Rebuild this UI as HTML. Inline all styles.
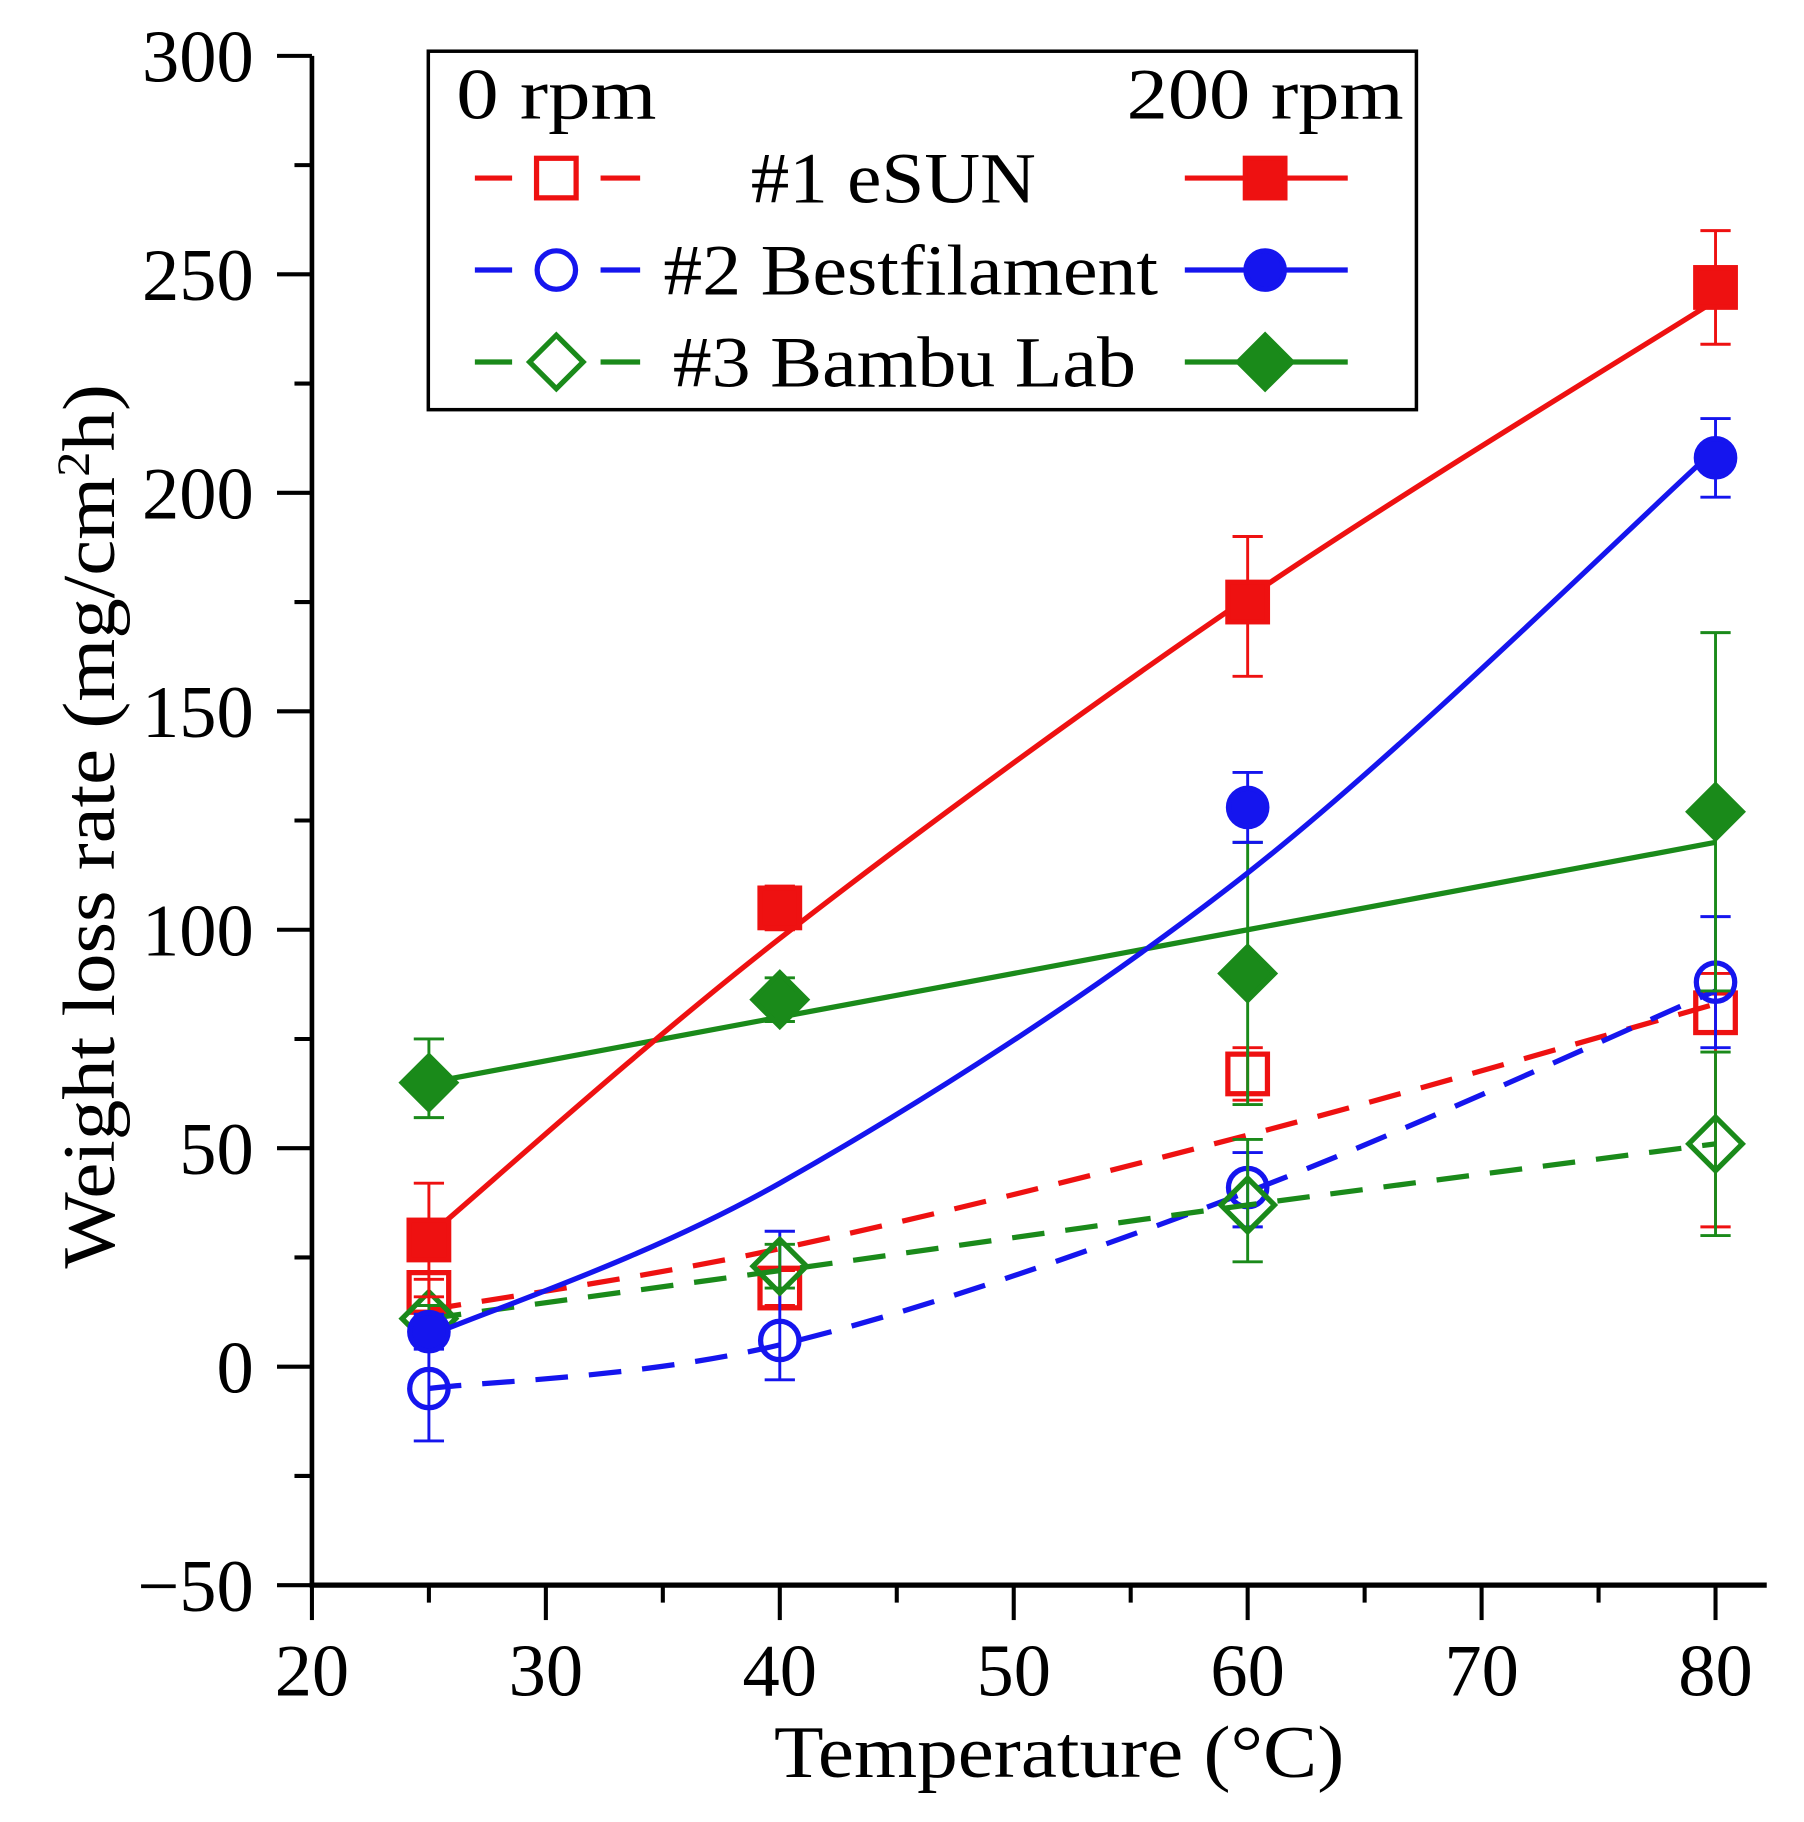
<!DOCTYPE html>
<html><head><meta charset="utf-8"><style>
html,body{margin:0;padding:0;background:#fff}
svg{display:block}
text{font-family:"Liberation Serif",serif;fill:#000}
</style></head><body>
<svg id="chart" width="1804" height="1822" viewBox="0 0 1550 1565.5" xmlns="http://www.w3.org/2000/svg">
<g id="axes"></g>
<g id="plot"></g>
<g id="legend"></g>
<text x="910" y="1527" font-size="64" text-anchor="middle" textLength="490" lengthAdjust="spacingAndGlyphs">Temperature (°C)</text>
<text transform="translate(98,710) rotate(-90)" font-size="64" text-anchor="middle" textLength="760" lengthAdjust="spacingAndGlyphs">Weight loss rate (mg/cm<tspan baseline-shift="super" font-size="40">2</tspan>h)</text>
</svg>
<script>
const temps = [25, 40, 60, 80];
const xTicks = [20, 30, 40, 50, 60, 70, 80];
const yTicks = [-50, 0, 50, 100, 150, 200, 250, 300];

const esun200 = [29, 105, 175, 247];
const esun200Hi = [42, 110, 190, 260];
const esun200Lo = [16, 100, 158, 234];
const esun200Fit = [30, 98, 176, 244];

const best200 = [8, null, 128, 208];
const best200Hi = [12, null, 136, 217];
const best200Lo = [4, null, 120, 199];
const best200Fit = [7, 42, 113, 210];

const bambu200 = [65, 84, 90, 127];
const bambu200Hi = [75, 89, 120, 168];
const bambu200Lo = [57, 79, 60, 86];
const bambu200Fit = [65, 80, 100, 120];

const esun0 = [17, 18, 67, 81];
const esun0Hi = [20, 22, 73, 90];
const esun0Lo = [14, 14, 61, 32];
const esun0Fit = [13, 27, 53, 83];

const best0 = [-5, 6, 41, 88];
const best0Hi = [7, 31, 49, 103];
const best0Lo = [-17, -3, 32, 73];
const best0Fit = [-5, 5, 40, 86];

const bambu0 = [11, 23, 37, 51];
const bambu0Hi = [14, 28, 52, 72];
const bambu0Lo = [8, 18, 24, 30];
const bambu0Fit = [11, 22, 37, 51];

const NS = "http://www.w3.org/2000/svg";
const X0 = 268, X1 = 1474, Y0 = 1362, Y1 = 48;
function xs(v){ return X0 + (v - 20) / 60 * (X1 - X0); }
function ys(v){ return Y0 - (v + 50) / 350 * (Y0 - Y1); }
function mk(tag, attrs, parent){
  const e = document.createElementNS(NS, tag);
  for (const k in attrs) e.setAttribute(k, attrs[k]);
  parent.appendChild(e); return e;
}
const axes = document.getElementById('axes');
const plot = document.getElementById('plot');
const legend = document.getElementById('legend');

let yl = mk('line', {x1:X0, y1:Y1, x2:X0, y2:Y0+2, stroke:'#000','stroke-width':4}, axes);


let xl = mk('line', {x1:X0-2, y1:Y0, x2:1518, y2:Y0, stroke:'#000','stroke-width':4.5}, axes);



for (let v = -50; v <= 300; v += 25) {
  const major = v % 50 === 0;
  const t = mk('line', {x1:X0 - (major ? 30 : 15), y1:ys(v), x2:X0, y2:ys(v), stroke:'#000','stroke-width':3.5}, axes);
  
  
}
yTicks.forEach(v => {
  const t = mk('text', {x:X0 - 50, y:ys(v) + 22, 'font-size':64, 'text-anchor':'end'}, axes);
  t.textContent = v < 0 ? '\u2212' + Math.abs(v) : String(v);
  
  
});
for (let v = 20; v <= 80; v += 5) {
  const major = v % 10 === 0;
  const t = mk('line', {x1:xs(v), y1:Y0, x2:xs(v), y2:Y0 + (major ? 30 : 15), stroke:'#000','stroke-width':3.5}, axes);
  
  
}
xTicks.forEach(v => {
  const t = mk('text', {x:xs(v), y:Y0 + 95, 'font-size':64, 'text-anchor':'middle'}, axes);
  t.textContent = String(v);
  
  
});

function smoothPath(vals){
  const pts = temps.map((t,i)=>[xs(t), ys(vals[i])]);
  let d = 'M' + pts[0][0] + ',' + pts[0][1];
  for (let i = 0; i < pts.length - 1; i++) {
    const p0 = pts[Math.max(0,i-1)], p1 = pts[i], p2 = pts[i+1], p3 = pts[Math.min(pts.length-1,i+2)];
    const c1 = [p1[0] + (p2[0]-p0[0])/6, p1[1] + (p2[1]-p0[1])/6];
    const c2 = [p2[0] - (p3[0]-p1[0])/6, p2[1] - (p3[1]-p1[1])/6];
    d += ' C' + c1.join(',') + ' ' + c2.join(',') + ' ' + p2.join(',');
  }
  return d;
}
function marker(shape, cx, cy, color, filled, parent, name){
  let e;
  const fill = filled ? color : 'none';
  if (shape === 'square') e = mk('rect', {x:cx-17, y:cy-17, width:34, height:34, fill:fill, stroke:color, 'stroke-width':4.5}, parent);
  else if (shape === 'circle') e = mk('circle', {cx:cx, cy:cy, r:16.5, fill:fill, stroke:color, 'stroke-width':4.5}, parent);
  else e = mk('polygon', {points:`${cx},${cy-23} ${cx+23},${cy} ${cx},${cy+23} ${cx-23},${cy}`, fill:fill, stroke:color, 'stroke-width':4.5}, parent);
  
  
  return e;
}
function series(vals, hi, lo, fit, color, shape, filled, name){
  const g = mk('g', {}, plot);
  
  
  temps.forEach((t,i)=>{
    if (hi[i] == null) return;
    const x = xs(t);
    const eb = mk('path', {d:`M${x},${ys(hi[i])} V${ys(lo[i])} M${x-13},${ys(hi[i])} H${x+13} M${x-13},${ys(lo[i])} H${x+13}`, stroke:color, 'stroke-width':2.5, fill:'none'}, g);
    
    
  });
  const ln = mk('path', {d:smoothPath(fit), stroke:color, 'stroke-width':4.5, fill:'none', 'stroke-dasharray': filled ? 'none' : '28,18'}, g);
  
  
  temps.forEach((t,i)=>{
    if (vals[i] == null) return;
    marker(shape, xs(t), ys(vals[i]), color, filled, g, name + '-point');
  });
}
const RED = '#ee1111', BLUE = '#1515ee', GREEN = '#1a8a1a';
series(esun0, esun0Hi, esun0Lo, esun0Fit, RED, 'square', false, 'esun-0rpm');
series(best0, best0Hi, best0Lo, best0Fit, BLUE, 'circle', false, 'bestfilament-0rpm');
series(bambu0, bambu0Hi, bambu0Lo, bambu0Fit, GREEN, 'diamond', false, 'bambu-0rpm');
series(bambu200, bambu200Hi, bambu200Lo, bambu200Fit, GREEN, 'diamond', true, 'bambu-200rpm');
series(best200, best200Hi, best200Lo, best200Fit, BLUE, 'circle', true, 'bestfilament-200rpm');
series(esun200, esun200Hi, esun200Lo, esun200Fit, RED, 'square', true, 'esun-200rpm');

const box = mk('rect', {x:368, y:44, width:849, height:308, fill:'#fff', stroke:'#000', 'stroke-width':3}, legend);


let h = mk('text', {x:392, y:102, 'font-size':62, textLength:172, lengthAdjust:'spacingAndGlyphs'}, legend); h.textContent = '0 rpm';


h = mk('text', {x:968, y:102, 'font-size':62, textLength:238, lengthAdjust:'spacingAndGlyphs'}, legend); h.textContent = '200 rpm';


const legRows = [
  {y:153, c:RED, s:'square', label:'#1 eSUN', x0:645, w:245},
  {y:232, c:BLUE, s:'circle', label:'#2 Bestfilament', x0:570, w:425},
  {y:311, c:GREEN, s:'diamond', label:'#3 Bambu Lab', x0:578, w:398}
];
legRows.forEach(r=>{
  const g = mk('g', {}, legend);
  
  
  mk('path', {d:`M408,${r.y} H440 M516,${r.y} H550`, stroke:r.c, 'stroke-width':4.5, fill:'none'}, g);
  marker(r.s, 478, r.y, r.c, false, g, 'legend-marker-open');
  mk('line', {x1:1018, y1:r.y, x2:1158, y2:r.y, stroke:r.c, 'stroke-width':4.5}, g);
  marker(r.s, 1087, r.y, r.c, true, g, 'legend-marker-filled');
  const t = mk('text', {x:r.x0, y:r.y + 21, 'font-size':62, textLength:r.w, lengthAdjust:'spacingAndGlyphs'}, g);
  t.textContent = r.label;
  
  
});
</script>
</body></html>
